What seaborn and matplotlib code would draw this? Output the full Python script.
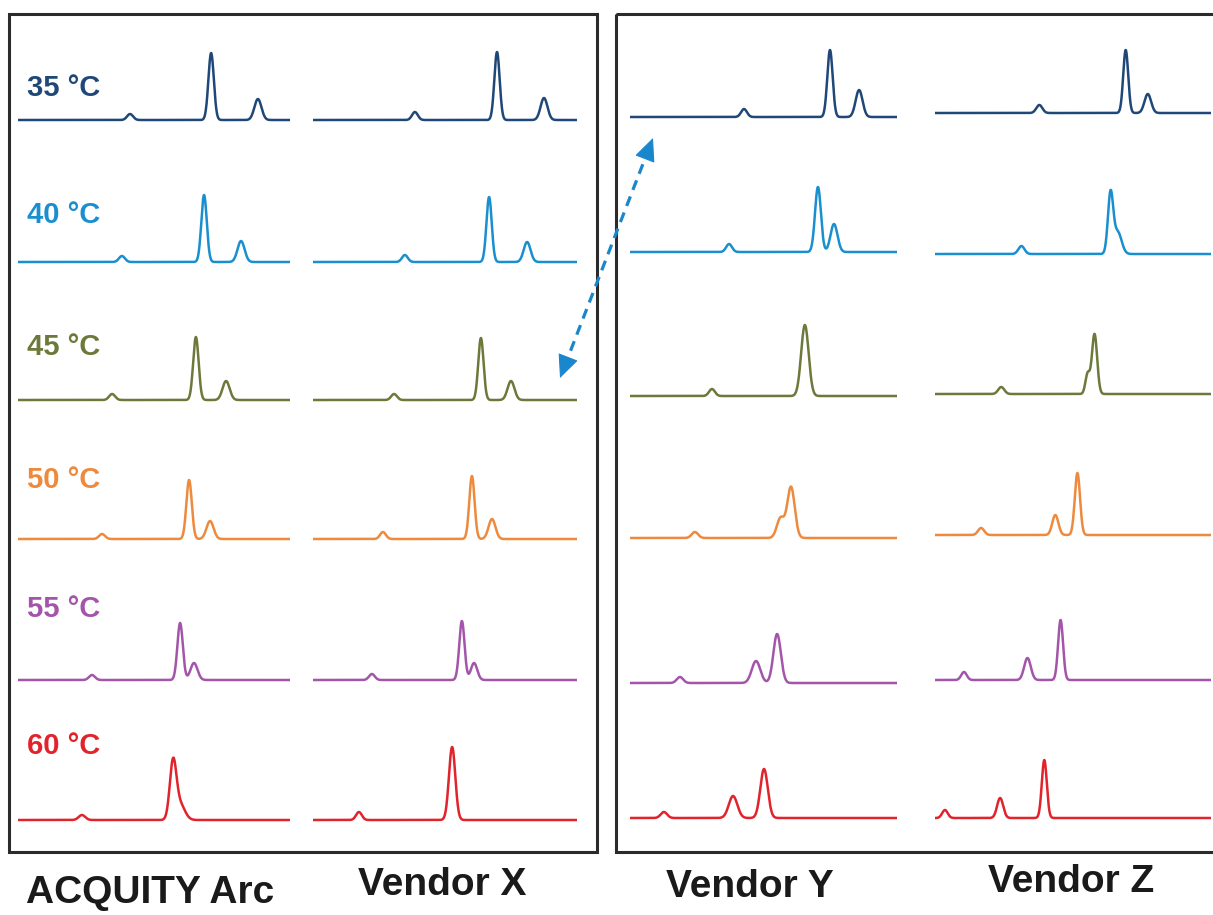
import numpy as np
import pandas as pd
import matplotlib
matplotlib.use("Agg")
import matplotlib.pyplot as plt
from matplotlib.patches import Rectangle, FancyArrowPatch
import seaborn as sns

sns.set_theme(style="white")
plt.rcParams['font.family'] = ['Liberation Sans', 'DejaVu Sans']

# ---------------- data ----------------
temps = ["35 °C", "40 °C", "45 °C", "50 °C", "55 °C", "60 °C"]
systems = ["ACQUITY Arc", "Vendor X", "Vendor Y", "Vendor Z"]
temp_colors = ["#1f4878", "#1a8fcf", "#6c793a", "#ee8a3e", "#a356a9", "#e1232b"]

# retention times (min), heights (a.u.), widths (sigma, min) for every trace
arc_rt = [[4.12, 7.10, 8.82], [3.82, 6.84, 8.20], [3.46, 6.54, 7.65],
          [3.09, 6.29, 7.06], [2.72, 5.96, 6.47], [2.35, 5.70, 5.95]]
arc_ht = [[6, 67, 21], [6, 67, 21], [6, 63, 19], [5, 59, 18], [5, 57, 17], [5, 56, 16]]
arc_sd = [[0.11, 0.10, 0.13], [0.11, 0.10, 0.13], [0.11, 0.10, 0.13],
          [0.11, 0.10, 0.13], [0.11, 0.10, 0.13], [0.12, 0.12, 0.18]]

vx_rt = [[3.86, 6.97, 8.75], [3.48, 6.67, 8.11], [3.07, 6.36, 7.50],
         [2.65, 6.02, 6.78], [2.23, 5.64, 6.10], [1.74, 5.27]]
vx_ht = [[8, 68, 22], [7, 65, 20], [6, 62, 19], [7, 63, 20], [6, 59, 17], [8, 73]]
vx_sd = [[0.11, 0.10, 0.13], [0.11, 0.10, 0.13], [0.11, 0.10, 0.13],
         [0.11, 0.10, 0.13], [0.11, 0.10, 0.12], [0.11, 0.12]]

vy_rt = [[4.27, 7.49, 8.58], [3.71, 7.04, 7.64], [3.07, 6.55],
         [2.43, 5.64, 6.03], [1.87, 4.72, 5.51], [1.27, 3.86, 5.02]]
vy_ht = [[8, 67, 27], [8, 65, 28], [7, 71], [6, 20, 51], [6, 22, 49], [6, 22, 49]]
vy_sd = [[0.11, 0.10, 0.13], [0.11, 0.11, 0.13], [0.11, 0.14],
         [0.12, 0.14, 0.14], [0.12, 0.16, 0.14], [0.12, 0.16, 0.14]]

vz_rt = [[3.78, 6.91, 7.71], [3.13, 6.36, 6.62], [2.40, 5.53, 5.78],
         [1.67, 4.36, 5.16], [1.05, 3.35, 4.55], [0.36, 2.36, 3.96]]
vz_ht = [[8, 63, 19], [8, 60, 22], [7, 20, 60], [7, 20, 62], [8, 22, 60], [8, 20, 58]]
vz_sd = [[0.11, 0.09, 0.12], [0.11, 0.095, 0.14], [0.11, 0.08, 0.095],
         [0.11, 0.11, 0.095], [0.10, 0.12, 0.09], [0.10, 0.11, 0.09]]

rt_data = [arc_rt, vx_rt, vy_rt, vz_rt]
ht_data = [arc_ht, vx_ht, vy_ht, vz_ht]
sd_data = [arc_sd, vx_sd, vy_sd, vz_sd]

# ---------------- layout (pixels of the 1213 x 915 canvas) ----------------
W, H = 1213, 915
col_x0 = [18, 313, 630, 935]
col_w = [272, 264, 267, 276]
base_y = [[120, 262, 400, 539, 680, 820],
          [120, 262, 400, 539, 680, 820],
          [117, 252, 396, 538, 683, 818],
          [113, 254, 394, 535, 680, 818]]
label_y = [88, 215, 347, 480, 609, 746]
trace_h = 90  # axes height in px (1 a.u. == 1 px)
t = np.linspace(0, 10, 1200)

fig = plt.figure(figsize=(W / 100, H / 100), dpi=100)
fig.patch.set_facecolor("white")

# overlay for frames, labels and arrow
over = fig.add_axes([0, 0, 1, 1], zorder=0)
over.set_xlim(0, W)
over.set_ylim(H, 0)
over.axis("off")
over.add_patch(Rectangle((9, 14), 588, 838, fill=False, lw=2.2, ec="#2b2b2b"))
over.add_patch(Rectangle((616, 14), 620, 838, fill=False, lw=2.2, ec="#2b2b2b",
                         clip_on=False))

for ci in range(4):
    for ri in range(6):
        rts, hts, sds = rt_data[ci][ri], ht_data[ci][ri], sd_data[ci][ri]
        y = np.zeros_like(t)
        for rt, h, s in zip(rts, hts, sds):
            y += h * np.exp(-0.5 * ((t - rt) / s) ** 2)
        df = pd.DataFrame({"time": t, "signal": y})
        bottom_px = base_y[ci][ri] + 3
        ax = fig.add_axes([col_x0[ci] / W, (H - bottom_px) / H,
                           col_w[ci] / W, trace_h / H], zorder=2)
        sns.lineplot(data=df, x="time", y="signal", ax=ax,
                     color=temp_colors[ri], linewidth=1.8)
        ax.set_xlim(0, 10)
        ax.set_ylim(-3, trace_h - 3)
        ax.axis("off")
        ax.patch.set_alpha(0)

for ri in range(6):
    over.text(27, label_y[ri], temps[ri], color=temp_colors[ri], fontsize=21,
              fontweight="bold", ha="left", va="center")

label_pos = [(150, 893), (442, 885), (750, 887), (1071, 882)]
for name, (lx, ly) in zip(systems, label_pos):
    over.text(lx, ly, name, color="#1a1a1a", fontsize=28, fontweight="bold",
              ha="center", va="center")

# dashed double-headed arrow between the two panels
arrow_col = "#1a86cc"
p0 = np.array([560.0, 378.0])
p1 = np.array([653.0, 138.0])
d = (p1 - p0) / np.linalg.norm(p1 - p0)
shaft0, shaft1 = p0 + 12 * d, p1 - 12 * d
over.plot([shaft0[0], shaft1[0]], [shaft0[1], shaft1[1]], color=arrow_col,
          lw=2.3, ls=(0, (3.2, 2.2)), solid_capstyle="butt", zorder=5)
for tip, back in ((p1, p1 - 2 * d), (p0, p0 + 2 * d)):
    over.add_patch(FancyArrowPatch(tuple(back), tuple(tip),
                                   arrowstyle="-|>,head_length=0.62,head_width=0.28",
                                   mutation_scale=24, lw=0.8, color=arrow_col,
                                   shrinkA=0, shrinkB=0, zorder=6))

fig.savefig("out.png", dpi=100, facecolor="white")
